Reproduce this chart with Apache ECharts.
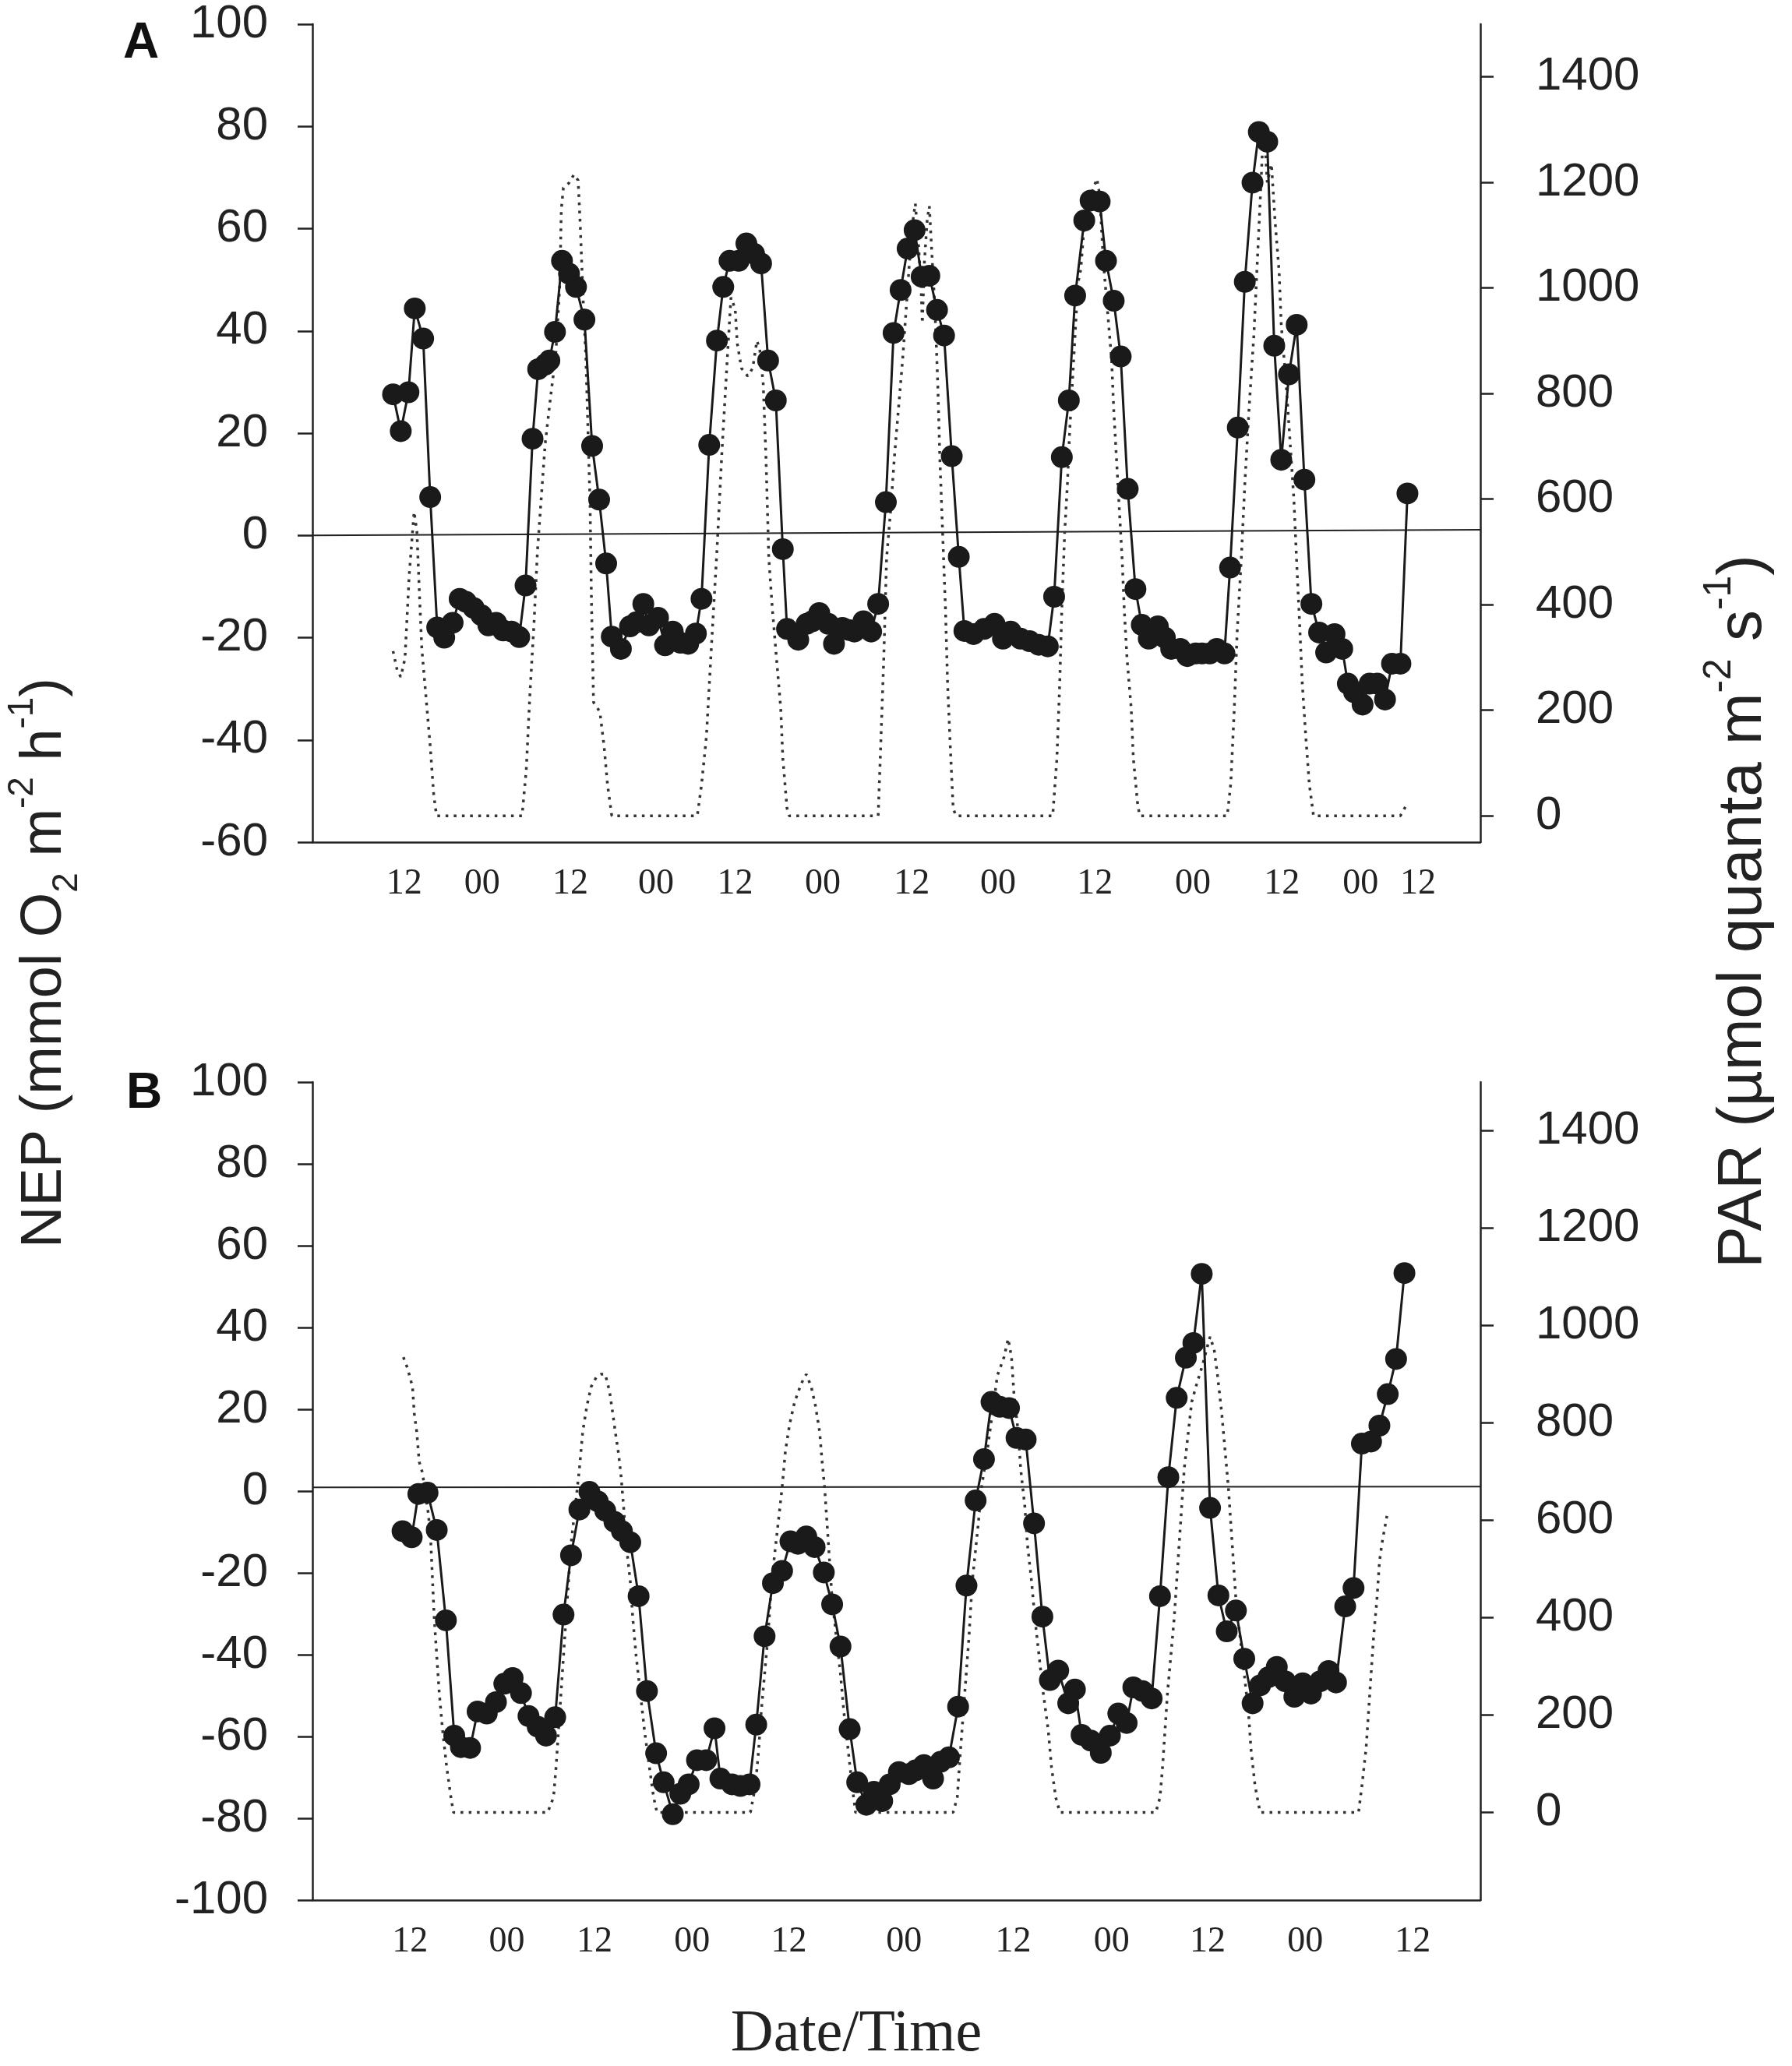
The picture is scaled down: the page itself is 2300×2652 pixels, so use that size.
<!DOCTYPE html>
<html>
<head>
<meta charset="utf-8">
<script src="https://cdn.jsdelivr.net/npm/echarts@6.0.0/dist/echarts.min.js"></script>
<style>
  html, body { margin: 0; padding: 0; background: #fff; }
  #main { width: 2300px; height: 2652px; }
</style>
</head>
<body>
<div id="main"></div>
<script>
// time axis is in hours from the first "12" label of each panel
var xHoursA = [0.2, 11.3, 23.9, 36.1, 47.4, 59.9, 72.6, 84.9, 98.7, 112.7, 125.4, 136.6, 144.8]
var xLabelsA = ['12', '00', '12', '00', '12', '00', '12', '00', '12', '00', '12', '00', '12']
var xHoursB = [0.1, 11.7, 22.2, 33.9, 45.5, 59.3, 72.4, 84.2, 95.7, 107.4, 120.3]
var xLabelsB = ['12', '00', '12', '00', '12', '00', '12', '00', '12', '00', '12']
var parTicks = [0, 200, 400, 600, 800, 1000, 1200, 1400]

// panel A: NEP (mmol O2 m-2 h-1)
var nepA = [[-1.4,27.6],[-0.3,20.4],[0.8,28.0],[1.7,44.4],[2.9,38.5],[3.9,7.5],[4.9,-18.0],[5.9,-20.0],[7.1,-17.1],[8.1,-12.4],[9.0,-13.0],[10.1,-14.2],[11.2,-15.6],[12.2,-17.6],[13.3,-17.1],[14.3,-18.6],[15.5,-18.8],[16.6,-19.9],[17.5,-9.8],[18.5,18.9],[19.3,32.5],[20.3,33.4],[20.9,34.2],[21.7,39.8],[22.7,53.7],[23.7,51.2],[24.7,48.6],[25.9,42.2],[27.0,17.5],[28.0,7.0],[29.0,-5.5],[29.8,-19.8],[31.1,-22.2],[32.4,-17.8],[33.3,-17.0],[34.3,-13.4],[35.1,-17.6],[36.4,-16.1],[37.4,-21.5],[38.5,-18.8],[39.6,-21.0],[40.7,-21.2],[41.8,-19.2],[42.6,-12.4],[43.7,17.7],[44.8,38.1],[45.7,48.6],[46.6,53.7],[47.9,53.7],[49.0,57.1],[50.1,55.1],[51.1,53.2],[52.1,34.2],[53.2,26.4],[54.2,-2.7],[54.8,-18.3],[56.4,-20.4],[57.6,-17.3],[58.4,-16.8],[59.4,-15.2],[60.7,-17.3],[61.5,-21.2],[62.7,-18.1],[63.6,-18.5],[64.4,-18.8],[65.7,-16.8],[66.8,-18.8],[67.8,-13.4],[68.9,6.5],[70.0,39.6],[71.0,48.0],[72.0,56.1],[73.0,59.7],[74.0,50.6],[75.1,50.8],[76.2,44.1],[77.2,39.1],[78.3,15.5],[79.3,-4.2],[80.1,-18.7],[81.4,-19.3],[82.9,-18.3],[84.4,-17.3],[85.6,-20.2],[86.7,-18.8],[88.1,-20.2],[89.4,-20.7],[90.7,-21.4],[92.0,-21.7],[92.9,-12.0],[94.0,15.3],[95.0,26.4],[95.9,46.9],[97.2,61.6],[98.1,65.5],[99.4,65.3],[100.3,53.7],[101.4,45.9],[102.4,35.0],[103.4,9.1],[104.5,-10.5],[105.4,-17.5],[106.4,-20.2],[107.7,-17.8],[108.7,-20.0],[109.6,-22.2],[110.9,-22.2],[111.9,-23.6],[113.1,-23.1],[114.0,-23.1],[115.1,-23.1],[116.1,-22.2],[117.2,-23.1],[118.0,-6.3],[119.1,21.1],[120.1,49.6],[121.2,69.0],[122.1,78.9],[123.3,77.0],[124.3,37.1],[125.3,14.8],[126.4,31.5],[127.5,41.2],[128.6,10.9],[129.6,-13.4],[130.7,-19.0],[131.7,-22.9],[132.9,-19.3],[134.0,-22.2],[134.8,-29.0],[135.7,-30.7],[136.9,-33.1],[137.9,-29.0],[139.0,-29.0],[140.1,-32.1],[141.1,-25.1],[142.3,-25.1],[143.3,8.2]]

// panel A: PAR (umol quanta m-2 s-1), dotted
var parA = [[-1.4,312],[-0.8,275],[-0.3,263],[0.3,298],[0.9,455],[1.6,576],[2.0,539],[2.4,409],[2.7,317],[3.3,225],[3.9,132],[4.4,40],[4.8,0],[17.0,0],[17.6,86],[18.1,225],[18.7,363],[19.2,502],[19.8,613],[20.3,705],[21.1,797],[21.8,871],[22.4,1010],[22.6,1149],[22.9,1190],[23.7,1199],[24.4,1215],[25.0,1204],[25.3,1121],[25.7,982],[26.1,871],[26.4,733],[26.7,594],[26.9,409],[27.2,215],[28.1,197],[28.7,132],[29.2,58],[29.8,0],[42.0,0],[42.6,58],[43.3,150],[44.0,317],[44.8,502],[45.5,686],[45.9,779],[46.3,871],[46.8,982],[47.4,961],[47.7,895],[48.3,848],[49.2,833],[49.9,848],[50.5,900],[50.9,885],[51.4,819],[51.8,677],[52.0,582],[52.2,488],[52.7,393],[53.3,298],[53.9,204],[54.2,109],[54.8,14],[55.1,0],[67.8,0],[68.1,109],[68.6,298],[69.0,488],[69.6,582],[70.1,677],[70.7,772],[71.3,866],[71.8,961],[72.2,1037],[72.7,1122],[73.1,1160],[73.5,1094],[73.9,1009],[74.1,933],[74.4,1050],[74.8,1130],[75.1,1155],[75.5,1056],[75.9,961],[76.3,819],[76.6,677],[77.0,535],[77.4,393],[77.7,251],[78.1,128],[78.5,14],[78.9,0],[92.7,0],[93.3,109],[93.7,251],[94.0,393],[94.4,535],[94.8,630],[95.1,724],[95.7,866],[96.3,1009],[96.7,1035],[97.2,1120],[97.9,1167],[99.0,1207],[99.4,1177],[99.9,1054],[100.5,959],[101.1,865],[101.4,770],[101.8,676],[102.2,581],[102.6,487],[102.9,392],[103.3,298],[103.9,203],[104.2,109],[104.8,24],[105.1,0],[117.6,0],[118.1,61],[118.6,203],[119.0,345],[119.6,487],[120.1,628],[120.7,770],[121.4,912],[121.9,1054],[122.4,1195],[122.8,1318],[123.3,1200],[123.9,1235],[124.4,1130],[125.0,1030],[125.3,930],[125.9,835],[126.4,740],[127.1,600],[127.5,480],[127.9,370],[128.3,250],[128.8,150],[129.3,60],[129.9,0],[142.3,0],[143.3,24]]

// panel B: NEP
var nepB = [[-0.8,-9.8],[0.3,-11.3],[1.1,-0.7],[2.2,-0.4],[3.3,-9.5],[4.4,-31.6],[5.4,-59.8],[6.2,-62.6],[7.3,-62.8],[8.2,-53.9],[9.3,-54.4],[10.4,-51.6],[11.4,-47.1],[12.4,-45.7],[13.4,-49.4],[14.3,-55.0],[15.4,-57.6],[16.4,-59.8],[17.5,-55.3],[18.5,-30.2],[19.4,-15.7],[20.4,-4.5],[21.6,-0.2],[22.6,-2.5],[23.5,-4.8],[24.6,-7.5],[25.5,-9.8],[26.5,-12.5],[27.5,-25.7],[28.5,-48.9],[29.6,-64.1],[30.5,-71.2],[31.6,-79.0],[32.5,-74.0],[33.5,-71.7],[34.5,-65.8],[35.6,-65.8],[36.6,-58.0],[37.3,-70.3],[38.7,-71.7],[39.7,-72.1],[40.8,-71.7],[41.6,-57.1],[42.6,-35.5],[43.6,-22.5],[44.7,-19.5],[45.7,-12.3],[46.6,-12.9],[47.6,-11.1],[48.6,-13.7],[49.7,-19.9],[50.7,-27.7],[51.7,-38.0],[52.8,-58.2],[53.7,-71.2],[54.8,-76.7],[55.7,-73.5],[56.7,-75.8],[57.6,-71.7],[58.7,-68.7],[59.9,-69.2],[60.7,-68.3],[61.7,-67.0],[62.8,-70.3],[63.7,-66.2],[64.7,-65.1],[65.8,-52.7],[66.8,-23.1],[67.9,-2.3],[68.9,7.8],[69.8,21.8],[70.8,20.6],[71.9,20.3],[72.8,13.0],[73.9,12.6],[74.9,-7.9],[75.9,-30.7],[76.8,-46.2],[77.8,-43.9],[79.0,-51.9],[79.8,-48.5],[80.6,-59.6],[81.7,-61.0],[82.9,-64.0],[84.0,-59.8],[85.0,-54.4],[86.0,-56.7],[86.8,-48.0],[87.9,-48.9],[89.0,-50.7],[90.0,-25.7],[91.0,3.4],[92.0,22.8],[93.1,32.6],[94.0,36.2],[95.0,53.1],[96.0,-4.1],[97.0,-25.5],[98.0,-34.3],[99.1,-29.2],[100.1,-41.0],[101.1,-51.9],[102.0,-47.5],[103.0,-45.5],[104.0,-43.0],[105.0,-46.5],[106.1,-50.3],[107.1,-47.0],[108.1,-49.5],[109.2,-46.5],[110.2,-44.0],[111.1,-46.8],[112.2,-28.2],[113.2,-23.7],[114.2,11.6],[115.3,12.1],[116.3,16.0],[117.3,23.7],[118.3,32.3],[119.3,53.3]]

// panel B: PAR
var parB = [[-0.7,935],[-0.2,912],[0.4,874],[0.6,820],[0.9,782],[1.2,720],[1.6,697],[1.9,659],[2.3,613],[2.6,552],[2.8,475],[3.0,399],[3.3,322],[3.6,246],[4.0,169],[4.5,92],[5.0,31],[5.3,0],[16.6,0],[17.3,31],[17.6,92],[17.9,169],[18.2,246],[18.5,322],[18.8,399],[19.1,475],[19.4,552],[19.9,628],[20.4,705],[20.8,782],[21.3,835],[21.8,874],[22.4,893],[23.0,900],[23.5,900],[24.0,866],[24.4,820],[24.7,782],[25.1,736],[25.4,690],[25.7,628],[26.0,552],[26.5,475],[26.8,399],[27.2,322],[27.7,246],[28.2,169],[28.8,92],[29.3,31],[29.7,0],[40.9,0],[41.5,54],[41.9,131],[42.2,207],[42.6,284],[43.0,360],[43.3,437],[43.7,514],[44.2,590],[44.7,667],[45.1,743],[45.6,797],[46.2,843],[47.0,881],[47.6,900],[48.2,874],[48.7,835],[49.2,782],[49.5,720],[49.8,667],[50.1,590],[50.4,514],[50.7,437],[51.2,360],[51.7,284],[52.1,207],[52.6,131],[53.1,54],[53.5,0],[65.2,0],[65.7,31],[66.1,131],[66.6,246],[67.1,360],[67.5,475],[68.2,590],[68.6,667],[69.3,743],[69.9,820],[70.5,897],[71.3,935],[71.8,973],[72.2,935],[72.5,858],[73.0,782],[73.3,705],[73.8,628],[74.1,552],[74.6,475],[75.0,399],[75.5,322],[76.0,246],[76.6,169],[77.0,92],[77.5,31],[78.0,0],[89.5,0],[90.0,31],[90.3,92],[90.6,169],[90.9,246],[91.3,322],[91.7,399],[92.0,475],[92.3,552],[92.6,628],[92.9,705],[93.4,782],[93.8,843],[94.3,874],[95.1,919],[95.7,958],[96.0,977],[96.5,950],[96.9,897],[97.4,820],[97.8,743],[98.2,667],[98.5,590],[98.8,514],[99.1,437],[99.6,360],[100.1,284],[100.6,207],[100.9,131],[101.4,54],[102.0,0],[113.8,0],[114.2,54],[114.7,131],[115.0,207],[115.3,284],[115.6,360],[116.0,437],[116.3,514],[116.6,552],[117.0,590],[117.2,609]]

// reference lines near NEP = 0 (slightly tilted in the scan)
var zeroA = [[-12.9, 0], [153.7, 1.1]]
var zeroB = [[-11.6, 0.9], [128.4, 1.1]]

var ink = '#222'
var sans = 'Liberation Sans, Arial, sans-serif'
var serif = 'Liberation Serif, Times New Roman, serif'

function xAxisFor (grid, min, max, hours, labels) {
  return {
    type: 'value', gridIndex: grid, min: min, max: max,
    axisLine: { show: true, onZero: false, lineStyle: { color: ink, width: 2.5 } },
    axisTick: { show: false },
    splitLine: { show: false },
    axisLabel: {
      customValues: hours,
      margin: 31, color: ink, fontSize: 46, fontFamily: serif,
      formatter: function (v) {
        for (var i = 0; i < hours.length; i++) {
          if (Math.abs(hours[i] - v) < 0.01) return labels[i]
        }
        return ''
      }
    }
  }
}

function nepAxis (grid, min, max) {
  return {
    type: 'value', gridIndex: grid, position: 'left', min: min, max: max, interval: 20,
    axisLine: { show: true, onZero: false, lineStyle: { color: ink, width: 2.5 } },
    axisTick: { show: true, length: 19, lineStyle: { color: ink, width: 2.5 } },
    splitLine: { show: false },
    axisLabel: { margin: 57, color: ink, fontSize: 60, fontFamily: sans }
  }
}

function parAxis (grid, min) {
  return {
    type: 'value', gridIndex: grid, position: 'right', min: min, max: 1500,
    axisLine: { show: true, onZero: false, lineStyle: { color: ink, width: 2.5 } },
    axisTick: { show: true, customValues: parTicks, length: 17, lineStyle: { color: ink, width: 2.5 } },
    splitLine: { show: false },
    axisLabel: {
      customValues: parTicks, margin: 71, color: ink, fontSize: 60, fontFamily: sans,
      formatter: function (v) { return String(v) }
    }
  }
}

function nepSeries (x, y, data) {
  return {
    type: 'line', xAxisIndex: x, yAxisIndex: y, data: data, z: 5,
    symbol: 'circle', symbolSize: 28,
    itemStyle: { color: '#1a1a1a' },
    lineStyle: { color: '#1a1a1a', width: 3 }
  }
}

function parSeries (x, y, data) {
  return {
    type: 'line', xAxisIndex: x, yAxisIndex: y, data: data, z: 2,
    symbol: 'none',
    lineStyle: { color: '#333', width: 3.5, type: [3.5, 7] }
  }
}

function zeroSeries (x, y, data) {
  return {
    type: 'line', xAxisIndex: x, yAxisIndex: y, data: data, z: 1,
    symbol: 'none', silent: true,
    lineStyle: { color: ink, width: 2 }
  }
}

var richTitle = function (size) {
  return {
    m: { fontSize: size, fontFamily: sans, fill: ink, lineHeight: size * 1.4, verticalAlign: 'middle' },
    sup: { fontSize: size * 0.62, fontFamily: sans, fill: ink, lineHeight: size * 0.62, verticalAlign: 'top' },
    sub: { fontSize: size * 0.62, fontFamily: sans, fill: ink, lineHeight: size * 0.62, verticalAlign: 'bottom' }
  }
}

var myChart = echarts.init(document.getElementById('main'), null, { renderer: 'canvas' })
myChart.setOption({
  animation: false,
  backgroundColor: '#fff',
  grid: [
    { left: 401, right: 400, top: 31, height: 1050 },
    { left: 401, right: 400, top: 1389, height: 1050 }
  ],
  xAxis: [
    xAxisFor(0, -12.9, 153.7, xHoursA, xLabelsA),
    xAxisFor(1, -11.6, 128.4, xHoursB, xLabelsB)
  ],
  yAxis: [
    nepAxis(0, -60, 100),
    parAxis(0, -50),
    nepAxis(1, -100, 100),
    parAxis(1, -180)
  ],
  series: [
    zeroSeries(0, 0, zeroA),
    parSeries(0, 1, parA),
    nepSeries(0, 0, nepA),
    zeroSeries(1, 2, zeroB),
    parSeries(1, 3, parB),
    nepSeries(1, 2, nepB)
  ],
  graphic: [
    { type: 'text', x: 181, y: 56, style: { text: 'A', fontSize: 64, fontWeight: 'bold', fontFamily: sans, fill: '#111', align: 'center', verticalAlign: 'middle' } },
    { type: 'text', x: 185, y: 1404, style: { text: 'B', fontSize: 64, fontWeight: 'bold', fontFamily: sans, fill: '#111', align: 'center', verticalAlign: 'middle' } },
    {
      type: 'text', x: 58, y: 1236, rotation: Math.PI / 2,
      style: {
        text: '{m|NEP (mmol O}{sub|2}{m| m}{sup|-2}{m| h}{sup|-1}{m|)}',
        rich: richTitle(74), align: 'center', verticalAlign: 'middle'
      }
    },
    {
      type: 'text', x: 2238, y: 1170, rotation: Math.PI / 2,
      style: {
        text: '{m|PAR (\u00b5mol quanta m}{sup|-2}{m| s}{sup|-1}{m|)}',
        rich: richTitle(80), align: 'center', verticalAlign: 'middle'
      }
    },
    { type: 'text', x: 1099, y: 2612, style: { text: 'Date/Time', fontSize: 76, fontFamily: serif, fill: ink, align: 'center', verticalAlign: 'middle' } }
  ]
})
</script>
</body>
</html>
